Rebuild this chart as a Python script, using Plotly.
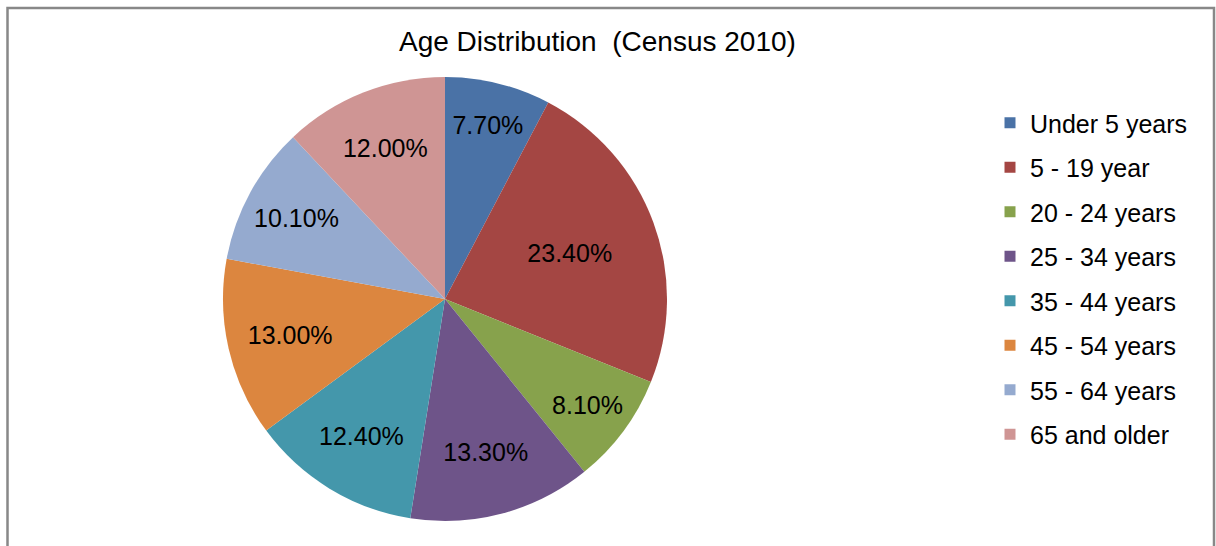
import plotly.graph_objects as go

categories = ["Under 5 years", "5 - 19 year", "20 - 24 years", "25 - 34 years",
              "35 - 44 years", "45 - 54 years", "55 - 64 years", "65 and older"]
values = [7.7, 23.4, 8.1, 13.3, 12.4, 13.0, 10.1, 12.0]
colors = ["#4A72A6", "#A44643", "#87A24C", "#6E5489", "#4497AB", "#DC863F", "#95AACF", "#CF9594"]
title_text = "Age Distribution  (Census 2010)"

W, H = 1216, 546
font_family = "Arial, Liberation Sans, sans-serif"

fig = go.Figure()
fig.add_trace(go.Pie(
    labels=categories, values=values, sort=False, direction="clockwise", rotation=0,
    marker=dict(colors=colors, line=dict(width=0)),
    texttemplate="%{value:.2f}%", textposition="inside", insidetextorientation="horizontal",
    textfont=dict(family=font_family, size=25, color="#000000"),
    domain=dict(x=[223 / W, 667 / W], y=[1 - 521 / H, 1 - 77 / H]),
    showlegend=False, hoverinfo="label+value",
))

# legend entries (square swatches)
for i, (c, col) in enumerate(zip(categories, colors)):
    fig.add_trace(go.Scatter(
        x=[None], y=[None], mode="markers", name=c, legendgroup=f"g{i}",
        marker=dict(symbol="square", size=11, color=col),
    ))

fig.update_layout(
    width=W, height=H,
    margin=dict(l=0, r=0, t=0, b=0),
    paper_bgcolor="white", plot_bgcolor="white",
    xaxis=dict(visible=False), yaxis=dict(visible=False),
    uniformtext=dict(minsize=25, mode="show"),
    legend=dict(x=990 / W, xanchor="left", y=1 - 100 / H, yanchor="top",
                font=dict(family=font_family, size=25, color="#000000"),
                tracegroupgap=9, traceorder="grouped", bgcolor="rgba(0,0,0,0)"),
    annotations=[dict(text=title_text, x=597 / W, y=1 - 42 / H, xref="paper", yref="paper",
                      xanchor="center", yanchor="middle", showarrow=False,
                      font=dict(family=font_family, size=28, color="#000000"))],
    shapes=[dict(type="rect", xref="paper", yref="paper", x0=7.5 / W, x1=1214 / W,
                 y0=-0.05, y1=1 - 8 / H, line=dict(color="#888888", width=2.5))],
)

fig.write_html("out.html", config={"displayModeBar": False},
               post_script="document.body.style.margin='0';")
